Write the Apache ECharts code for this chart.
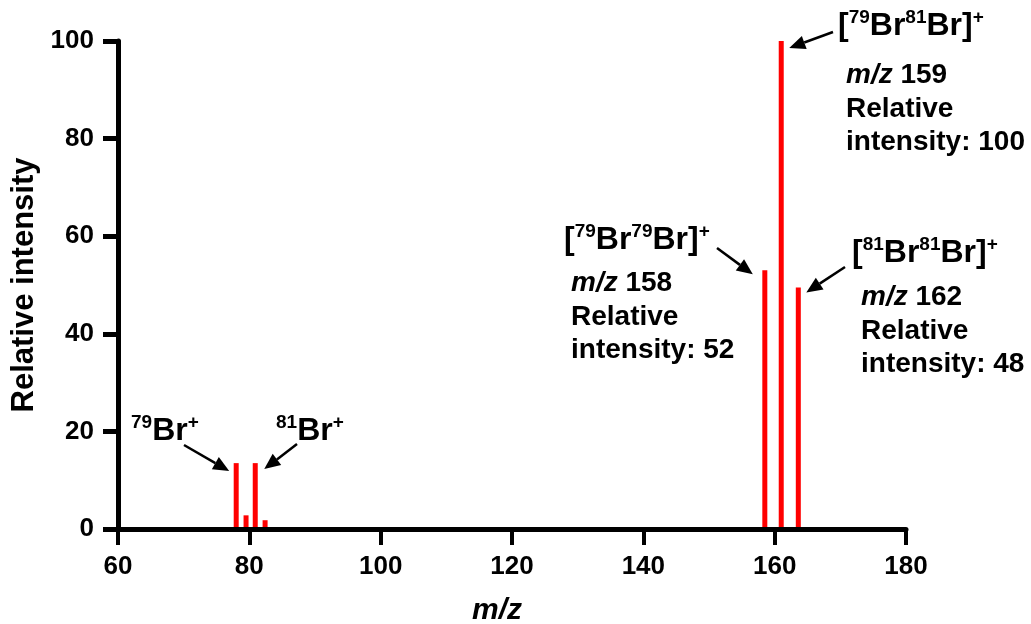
<!DOCTYPE html>
<html>
<head>
    <meta charset="utf-8" />
    <title>Br mass spectrum</title>
    <script type="text/javascript" src="https://cdn.jsdelivr.net/npm/echarts@6/dist/echarts.min.js"></script>
    <style>
        html, body { margin: 0; padding: 0; background: #fff; }
        #main { width: 1031px; height: 624px; }
    </style>
</head>
<body>
    <div id="main"></div>
    <script type="text/javascript">
        var FONT = '"Liberation Sans", Arial, Helvetica, sans-serif';

        // peaks: m/z and relative intensity
        var peakMz = [78.0, 79.5, 80.9, 82.4, 158.5, 161.0, 163.6];
        var peakIntensity = [13.5, 2.8, 13.5, 1.8, 53, 100, 49.5];

        var xTicks = [60, 80, 100, 120, 140, 160, 180];
        var yTicks = [0, 20, 40, 60, 80, 100];

        // annotations: which peak, ion name, info text
        var notePeak = [0, 2, 4, 6, 5];
        var noteIon = ['{s|79}Br{s|+}', '{s|81}Br{s|+}', '[{s|79}Br{s|79}Br]{s|+}', '[{s|81}Br{s|81}Br]{s|+}', '[{s|79}Br{s|81}Br]{s|+}'];
        var noteInfo = ['', '', '{i|m/z} 158\nRelative\nintensity: 52', '{i|m/z} 162\nRelative\nintensity: 48', '{i|m/z} 159\nRelative\nintensity: 100'];

        var dom = document.getElementById('main');
        var myChart = echarts.init(dom);

        var peaks = peakMz.map(function (m, i) { return [m, peakIntensity[i]]; });

        var option = {
            backgroundColor: '#fff',
            animation: false,
            grid: { left: 118, right: 125, top: 41, bottom: 95, containLabel: false, outerBoundsMode: 'none' },
            xAxis: {
                type: 'value',
                min: xTicks[0],
                max: xTicks[xTicks.length - 1],
                interval: xTicks[1] - xTicks[0],
                z: 3,
                name: 'm/z',
                nameLocation: 'middle',
                nameGap: 67,
                nameTextStyle: { color: '#000', fontFamily: FONT, fontSize: 30, fontWeight: 'bold', fontStyle: 'italic', padding: [0, 30, 0, 0] },
                axisLine: { show: true, onZero: false, lineStyle: { color: '#000', width: 5 } },
                axisTick: { show: true, length: 16, lineStyle: { color: '#000', width: 4 } },
                axisLabel: { color: '#000', fontFamily: FONT, fontSize: 26, fontWeight: 'bold', margin: 25 },
                splitLine: { show: false }
            },
            yAxis: {
                type: 'value',
                min: yTicks[0],
                max: yTicks[yTicks.length - 1],
                interval: yTicks[1] - yTicks[0],
                z: 3,
                name: 'Relative intensity',
                nameLocation: 'middle',
                nameGap: 76,
                nameRotate: 90,
                nameTextStyle: { color: '#000', fontFamily: FONT, fontSize: 31, fontWeight: 'bold' },
                axisLine: { show: true, onZero: false, lineStyle: { color: '#000', width: 5 } },
                axisTick: { show: true, length: 15, lineStyle: { color: '#000', width: 5 } },
                axisLabel: { color: '#000', fontFamily: FONT, fontSize: 26, fontWeight: 'bold', margin: 24 },
                splitLine: { show: false }
            },
            series: [{
                type: 'bar',
                data: peaks,
                barWidth: 5,
                itemStyle: { color: '#ff0000' }
            }]
        };
        myChart.setOption(option);

        // label layout (pixels)
        var ionPos = [[131, 413], [276, 413], [564, 222], [852, 235], [838, 8]];
        var infoPos = [null, null, [571, 267], [861, 281], [846, 59]];
        var arrowFrom = [[184, 445], [297, 444], [717, 248], [845, 267], [833, 32]];
        var arrowTipOff = [[-7, 8], [9, 6], [-12, 4], [8, 5], [8, 7]];

        function arrow(x1, y1, x2, y2) {
            var ang = Math.atan2(y2 - y1, x2 - x1);
            var len = 16, half = 7;
            var bx = x2 - len * Math.cos(ang), by = y2 - len * Math.sin(ang);
            var nx = -Math.sin(ang), ny = Math.cos(ang);
            return [
                { type: 'line', z: 10, shape: { x1: x1, y1: y1, x2: bx, y2: by }, style: { stroke: '#000', lineWidth: 2.5 } },
                { type: 'polygon', z: 10, shape: { points: [[x2, y2], [bx + nx * half, by + ny * half], [bx - nx * half, by - ny * half]] }, style: { fill: '#000' } }
            ];
        }

        var graphics = [];
        for (var i = 0; i < notePeak.length; i++) {
            // pixel of the bar top this note points at
            var peakPx = myChart.convertToPixel({ xAxisIndex: 0, yAxisIndex: 0 }, peaks[notePeak[i]]);
            graphics = graphics.concat(arrow(arrowFrom[i][0], arrowFrom[i][1], peakPx[0] + arrowTipOff[i][0], peakPx[1] + arrowTipOff[i][1]));
            graphics.push({
                type: 'text',
                x: ionPos[i][0],
                y: ionPos[i][1],
                style: {
                    text: noteIon[i],
                    fill: '#000',
                    font: 'bold 32px ' + FONT,
                    lineHeight: 36,
                    align: 'left', verticalAlign: 'top',
                    textAlign: 'left', textVerticalAlign: 'top',
                    rich: {
                        s: { fontSize: 19, fontWeight: 'bold', fontFamily: FONT, lineHeight: 21, verticalAlign: 'top', fill: '#000' }
                    }
                }
            });
            if (infoPos[i]) {
                graphics.push({
                    type: 'text',
                    x: infoPos[i][0],
                    y: infoPos[i][1],
                    style: {
                        text: noteInfo[i],
                        fill: '#000',
                        font: 'bold 28px ' + FONT,
                        lineHeight: 33.5,
                        align: 'left', verticalAlign: 'top',
                        textAlign: 'left', textVerticalAlign: 'top',
                        rich: {
                            i: { fontSize: 28, fontWeight: 'bold', fontStyle: 'italic', fontFamily: FONT, lineHeight: 33.5, fill: '#000' }
                        }
                    }
                });
            }
        }
        myChart.setOption({ graphic: graphics });
    </script>
</body>
</html>
